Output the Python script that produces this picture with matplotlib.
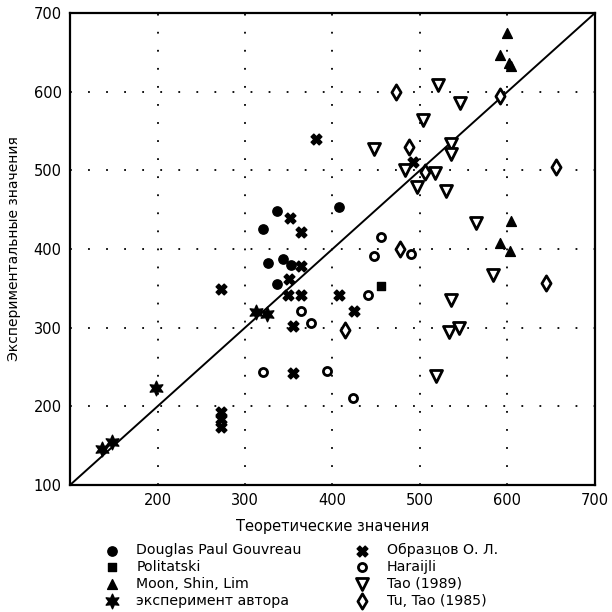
import matplotlib
matplotlib.use("Agg")
import matplotlib.pyplot as plt

gouvreau_x = [337, 321, 407, 326, 343, 336, 352]
gouvreau_y = [448, 426, 454, 382, 387, 355, 380]

politatski_x = [455]
politatski_y = [353]

moon_x = [600, 591, 602, 604, 604, 591, 603]
moon_y = [675, 646, 636, 632, 436, 407, 398]

author_x = [136, 148, 198, 312, 325]
author_y = [146, 155, 223, 320, 317]

obraztsov_x = [273, 273, 273, 273, 351, 364, 364, 350, 349, 364, 355, 355, 407, 425, 381, 492]
obraztsov_y = [349, 193, 184, 174, 439, 421, 379, 362, 341, 341, 302, 243, 342, 321, 540, 510]

harajli_x = [456, 447, 441, 364, 375, 320, 394, 424, 490]
harajli_y = [415, 391, 341, 321, 306, 244, 245, 210, 394]

tao89_x = [521, 546, 503, 447, 535, 535, 483, 517, 497, 530, 564, 584, 536, 533, 545, 518]
tao89_y = [609, 586, 564, 527, 534, 521, 500, 496, 479, 474, 433, 367, 335, 294, 300, 239]

tutao_x = [473, 591, 487, 506, 656, 644, 477, 414]
tutao_y = [599, 594, 530, 498, 504, 357, 400, 297]

labels = ["Douglas Paul Gouvreau", "Politatski", "Moon, Shin, Lim",
          "эксперимент автора", "Образцов О. Л.", "Haraijli",
          "Tao (1989)", "Tu, Tao (1985)"]

plt.rcParams['font.family'] = ['DejaVu Sans']

fig = plt.figure(figsize=(6.12, 6.12), dpi=100)
ax = fig.add_axes([0.1144, 0.2075, 0.8578, 0.7713])

# grid and diagonal
for v in [200, 300, 400, 500, 600]:
    ax.axvline(v, color="black", lw=1.3, ls=(0, (1, 9)), zorder=0)
    ax.axhline(v, color="black", lw=1.3, ls=(0, (1, 9)), zorder=0)
ax.plot([100, 700], [100, 700], color="black", lw=1.4, zorder=1)

k = dict(color="black", zorder=3)
h = []
h.append(ax.scatter(gouvreau_x, gouvreau_y, marker="o", s=45, **k))
h.append(ax.scatter(politatski_x, politatski_y, marker="s", s=40, **k))
h.append(ax.scatter(moon_x, moon_y, marker="^", s=50, **k))
h.append(ax.scatter(author_x, author_y, marker=(6, 1, 0), s=110, **k))
h.append(ax.scatter(obraztsov_x, obraztsov_y, marker="X", s=60, **k))
h.append(ax.scatter(harajli_x, harajli_y, marker="o", s=34, facecolors="white",
                    edgecolors="black", linewidths=2, zorder=3))
h.append(ax.scatter(tao89_x, tao89_y, marker="v", s=75, facecolors="white",
                    edgecolors="black", linewidths=2, zorder=3))
h.append(ax.scatter(tutao_x, tutao_y, marker="d", s=60, facecolors="white",
                    edgecolors="black", linewidths=2, zorder=3))

ax.set_xlim(100, 700)
ax.set_ylim(100, 700)
ax.set_xticks([200, 300, 400, 500, 600, 700])
ax.set_yticks([100, 200, 300, 400, 500, 600, 700])
ax.tick_params(length=0, labelsize=10.5, pad=6)
for s in ax.spines.values():
    s.set_linewidth(1.6)

ax.set_xlabel("Теоретические значения", fontsize=10.5, labelpad=8)
ax.set_ylabel("Экспериментальные значения", fontsize=10, labelpad=9)

fig.legend(h, labels, ncol=2, loc="upper left", bbox_to_anchor=(0.16, 0.124),
           frameon=False, fontsize=10.2, handletextpad=1.2, columnspacing=3.8,
           labelspacing=0.2, borderpad=0, handlelength=1.0)

fig.savefig("out.png", dpi=100)
